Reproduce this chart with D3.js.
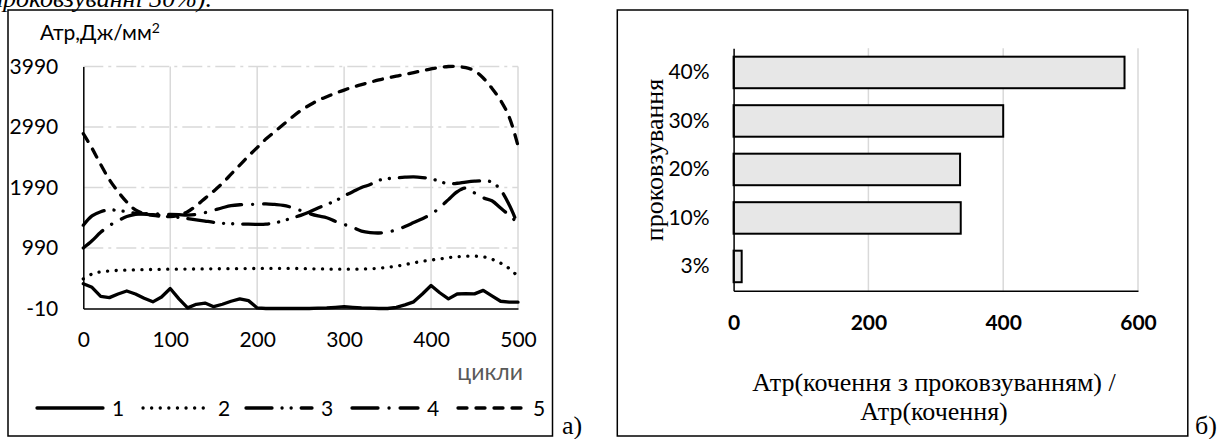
<!DOCTYPE html>
<html>
<head>
<meta charset="utf-8">
<script src="https://cdn.jsdelivr.net/npm/d3@7"></script>
<style>
  body { margin: 0; background: #fff; }
  text { font-family: Lato, "Open Sans", sans-serif; }
  .serif { font-family: "Liberation Serif", "Times New Roman", serif; }
</style>
</head>
<body>
<div id="chart"></div>
<script>
// ---- data: left chart (Атр vs cycles) ----
const cycles = d3.range(0, 501, 10);
const series1 = [400, 340, 190, 170, 230, 280, 230, 160, 100, 180, 320, 150, 0, 60, 80, 20, 60, 110, 150, 120,
  0, -10, -10, -10, -10, -10, -10, -5, 0, 10, 20, 10, 0, -5, -10, -10, 10, 50, 100, 230,
  370, 250, 150, 230, 235, 232, 290, 200, 110, 95, 95];
const series2 = [480, 560, 595, 610, 620, 625, 630, 632, 635, 637, 640, 640, 642, 643, 645, 646, 647, 648, 650, 650,
  652, 652, 653, 653, 652, 650, 648, 645, 643, 640, 640, 640, 643, 648, 655, 670, 690, 715, 745, 770,
  790, 810, 830, 845, 855, 855, 845, 805, 740, 650, 520];
const series3 = [1365, 1520, 1590, 1620, 1610, 1590, 1565, 1550, 1540, 1530, 1515, 1495, 1475, 1455, 1435, 1415, 1400, 1392, 1387, 1383,
  1382, 1385, 1405, 1440, 1485, 1530, 1585, 1650, 1710, 1770, 1850, 1920, 1990, 2040, 2110, 2135, 2150, 2160, 2165, 2155,
  2135, 2090, 2050, 2060, 2080, 2095, 2100, 2080, 1950, 1700, 1370];
const series4 = [990, 1110, 1250, 1360, 1440, 1510, 1545, 1555, 1555, 1550, 1545, 1540, 1535, 1545, 1575, 1615, 1655, 1690, 1705, 1710,
  1715, 1720, 1710, 1695, 1660, 1610, 1560, 1520, 1490, 1430, 1380, 1330, 1270, 1245, 1238, 1255, 1290, 1345, 1410, 1475,
  1545, 1660, 1790, 1920, 1980, 1900, 1820, 1770, 1650, 1530, 1400];
const series5 = [2880, 2640, 2370, 2120, 1920, 1750, 1620, 1560, 1530, 1515, 1510, 1530, 1590, 1690, 1810, 1930, 2060, 2210, 2360, 2510,
  2650, 2790, 2910, 3030, 3150, 3260, 3350, 3430, 3490, 3550, 3600, 3650, 3690, 3730, 3770, 3800, 3830, 3860, 3890, 3920,
  3950, 3975, 3990, 3990, 3970, 3920, 3800, 3630, 3430, 3150, 2680];
const seriesNames = ['1', '2', '3', '4', '5'];
const xTicks = [0, 100, 200, 300, 400, 500];
const yTicks = [-10, 990, 1990, 2990, 3990];

// ---- data: right chart (bars) ----
const slipCats = ['40%', '30%', '20%', '10%', '3%'];
const slipValues = [580, 400, 336, 337, 12];
const barTicks = [0, 200, 400, 600];

const svg = d3.select('#chart').append('svg')
  .attr('width', 1227).attr('height', 439)
  .style('background', '#fff');

// cropped caption line from the page above
svg.append('text').attr('class', 'serif')
  .attr('x', 212).attr('y', 7)
  .attr('text-anchor', 'end')
  .attr('font-size', 26).attr('font-style', 'italic')
  .text('проковзуванні 30%).');

// ================= left chart =================
svg.append('rect')
  .attr('x', 8).attr('y', 10).attr('width', 544.5).attr('height', 426)
  .attr('fill', 'none').attr('stroke', '#000').attr('stroke-width', 1.5);

const x = d3.scaleLinear().domain([0, 500]).range([83.3, 518]);
const y = d3.scaleLinear().domain([-10, 3990]).range([308.5, 66.5]);

// gridlines
svg.append('g').selectAll('line').data(xTicks.slice(1)).join('line')
  .attr('x1', d => x(d)).attr('x2', d => x(d))
  .attr('y1', y(3990)).attr('y2', y(-10))
  .attr('stroke', '#d9d9d9').attr('stroke-width', 1.5);
svg.append('g').selectAll('line').data(yTicks.slice(1)).join('line')
  .attr('x1', x(0)).attr('x2', x(500))
  .attr('y1', d => y(d)).attr('y2', d => y(d))
  .attr('stroke', '#d9d9d9').attr('stroke-width', 1.5)
  .attr('stroke-dasharray', '20,5,3,5');

// axes
const xAxis = svg.append('g')
  .attr('transform', `translate(0,${y(-10)})`)
  .call(d3.axisBottom(x).tickValues(xTicks).tickFormat(d => String(d)).tickSize(0).tickPadding(24));
xAxis.select('.domain').attr('stroke', '#000').attr('stroke-width', 1.5);
xAxis.selectAll('text').attr('font-size', 21).attr('fill', '#000')
  .attr('font-family', 'Lato, sans-serif');

const yAxis = svg.append('g')
  .attr('transform', `translate(${x(0)},0)`)
  .call(d3.axisLeft(y).tickValues(yTicks).tickFormat(d => String(d)).tickSize(0).tickPadding(25));
yAxis.select('.domain').attr('stroke', '#000').attr('stroke-width', 1.5);
yAxis.selectAll('text').attr('font-size', 21).attr('fill', '#000')
  .attr('font-family', 'Lato, sans-serif');

// axis titles
const yTitle = svg.append('text').attr('x', 40).attr('y', 40).attr('font-size', 21);
yTitle.append('tspan').text('Атр,Дж/мм');
yTitle.append('tspan').attr('dy', -7).attr('font-size', 14).text('2');

svg.append('text').attr('x', 523).attr('y', 380)
  .attr('text-anchor', 'end').attr('font-size', 23).attr('fill', '#595959')
  .text('цикли');

// lines
const dashes = {
  '1': null,
  '2': '0.1,8.5',
  '3': '26,10,0.1,9,0.1,10',
  '4': '26,11,0.1,11',
  '5': '9,9'
};
const allSeries = [series1, series2, series3, series4, series5];
const line = d3.line().x(d => x(d[0])).y(d => y(d[1]));

allSeries.forEach((vals, i) => {
  const name = seriesNames[i];
  const pts = cycles.map((c, j) => [c, vals[j]]);
  svg.append('path')
    .datum(pts)
    .attr('d', line.curve(i === 0 ? d3.curveLinear : d3.curveCatmullRom.alpha(0.5)))
    .attr('fill', 'none')
    .attr('stroke', '#000')
    .attr('stroke-width', 3.3)
    .attr('stroke-linecap', 'round')
    .attr('stroke-linejoin', 'round')
    .attr('stroke-dasharray', dashes[name]);
});

// legend
const legendX = [37, 143, 246, 352, 458];
seriesNames.forEach((name, i) => {
  svg.append('line')
    .attr('x1', legendX[i]).attr('x2', legendX[i] + 66)
    .attr('y1', 408).attr('y2', 408)
    .attr('stroke', '#000').attr('stroke-width', 3.3)
    .attr('stroke-linecap', 'round')
    .attr('stroke-dasharray', dashes[name]);
  svg.append('text')
    .attr('x', legendX[i] + 75).attr('y', 415.5)
    .attr('font-size', 21)
    .text(name);
});

svg.append('text').attr('class', 'serif')
  .attr('x', 562).attr('y', 434).attr('font-size', 26).text('а)');

// ================= right chart =================
svg.append('rect')
  .attr('x', 617.3).attr('y', 10).attr('width', 570.5).attr('height', 426)
  .attr('fill', 'none').attr('stroke', '#000').attr('stroke-width', 1.5);

const bx = d3.scaleLinear().domain([0, 600]).range([733.6, 1138]);
const by = d3.scaleBand().domain(slipCats).range([48.2, 290.7]).paddingInner(0.35).paddingOuter(0.175);

svg.append('g').selectAll('line').data(barTicks.slice(1)).join('line')
  .attr('x1', d => bx(d)).attr('x2', d => bx(d))
  .attr('y1', 48.2).attr('y2', 290.7)
  .attr('stroke', '#d9d9d9').attr('stroke-width', 1.5);

svg.append('g').selectAll('rect').data(slipCats).join('rect')
  .attr('x', bx(0))
  .attr('y', d => by(d))
  .attr('width', (d, i) => bx(slipValues[i]) - bx(0))
  .attr('height', by.bandwidth())
  .attr('fill', '#e7e7e7')
  .attr('stroke', '#000')
  .attr('stroke-width', 2);

const bxAxis = svg.append('g')
  .attr('transform', 'translate(0,290.7)')
  .call(d3.axisBottom(bx).tickValues(barTicks).tickFormat(d => String(d)).tickSize(0).tickPadding(24));
bxAxis.select('.domain').attr('stroke', '#000').attr('stroke-width', 1.5);
bxAxis.selectAll('text').attr('font-size', 21).attr('font-weight', 'bold').attr('fill', '#000')
  .attr('font-family', 'Lato, sans-serif');

const byAxis = svg.append('g')
  .attr('transform', `translate(${bx(0)},0)`)
  .call(d3.axisLeft(by).tickSize(0).tickPadding(24));
byAxis.select('.domain').attr('stroke', '#000').attr('stroke-width', 1.5);
byAxis.selectAll('text').attr('font-size', 21).attr('fill', '#000')
  .attr('font-family', 'Lato, sans-serif');

svg.append('text').attr('class', 'serif')
  .attr('transform', 'translate(663,160) rotate(-90)')
  .attr('text-anchor', 'middle').attr('font-size', 26)
  .text('проковзування');

svg.append('text').attr('class', 'serif')
  .attr('x', 934).attr('y', 391).attr('text-anchor', 'middle').attr('font-size', 26)
  .text('Атр(кочення з проковзуванням) /');
svg.append('text').attr('class', 'serif')
  .attr('x', 934).attr('y', 420).attr('text-anchor', 'middle').attr('font-size', 26)
  .text('Атр(кочення)');

svg.append('text').attr('class', 'serif')
  .attr('x', 1195).attr('y', 434).attr('font-size', 26).text('б)');
</script>
</body>
</html>
